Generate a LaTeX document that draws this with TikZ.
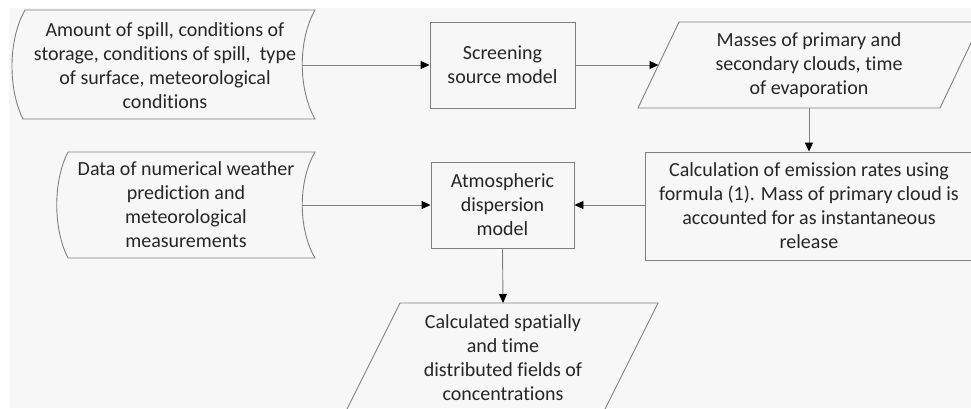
\documentclass[tikz,border=0pt]{standalone}
\usepackage{fontspec}
\setmainfont{Carlito}[Ligatures=NoCommon]
\usetikzlibrary{arrows.meta}
\definecolor{bgc}{HTML}{F7F7F7}
\definecolor{linec}{HTML}{808080}
\definecolor{textc}{HTML}{262626}
\tikzset{
  shapeline/.style={draw=linec, line width=0.9pt},
  txt/.style={font=\fontsize{20}{24}\selectfont, text=textc, align=center, inner sep=0pt},
  procbox/.style={shapeline, rectangle, inner sep=0pt, font=\fontsize{20}{24}\selectfont, text=textc, align=center},
  conn/.style={draw=linec, line width=0.9pt, -{Triangle[length=9pt,width=8pt,color=black]}},
}
\begin{document}
\begin{tikzpicture}[x=1pt,y=-1pt]
\useasboundingbox (0,0) rectangle (971,408);
\clip (0,0) rectangle (971,408);
\fill[white] (0,0) rectangle (971,408);
\fill[bgc] (9,8) rectangle (971,408);

% input 1 (stored data shape)
\draw[shapeline] (25,10) -- (315,10) .. controls (298,40) and (298,89) .. (315,119)
  -- (23,119) .. controls (8,89) and (8,40) .. (25,10) -- cycle;
\node[txt] (in1) at (165,66) {Amount of spill, conditions of\\storage, conditions of spill,\ \ type\\of surface, meteorological\\conditions};
\coordinate (in1out) at (302.25,65);

% screening source model
\node[procbox, minimum width=145pt, minimum height=86pt] (scr) at (502.5,65) {Screening\\source model};

% masses parallelogram
\draw[shapeline] (679,22) -- (981,22) -- (940,108) -- (638,108) -- cycle;
\node[txt] (mass) at (809,65) {Masses of primary and\\secondary clouds, time\\of evaporation};
\coordinate (massin) at (658.5,65);
\coordinate (massout) at (809,108);

% calculation box
\node[procbox, minimum width=328pt, minimum height=108pt] (calc) at (809,206) {Calculation of emission rates using\\formula (1). Mass of primary cloud is\\accounted for as instantaneous\\release};

% atmospheric dispersion model
\node[procbox, minimum width=143pt, minimum height=86pt] (atm) at (502.5,205) {Atmospheric\\dispersion\\model};

% input 2 (stored data shape)
\draw[shapeline] (68,152) -- (315,152) .. controls (298,181) and (298,229) .. (315,258)
  -- (68,258) .. controls (53,229) and (53,181) .. (68,152) -- cycle;
\node[txt] (in2) at (186,205) {Data of numerical weather\\prediction and\\meteorological\\measurements};
\coordinate (in2out) at (302.25,205);

% output parallelogram
\draw[shapeline] (400,303) -- (658,303) -- (603,413) -- (345,413) -- cycle;
\node[txt] (outp) at (503,358) {Calculated spatially\\and time\\distributed fields of\\concentrations};
\coordinate (outin) at (503,303);

% connectors
\draw[conn] (in1out) -- (scr.west);
\draw[conn] (scr.east) -- (massin);
\draw[conn] (massout) -- (calc.north);
\draw[conn] (calc.west |- atm.east) -- (atm.east);
\draw[conn] (in2out) -- (atm.west);
\draw[conn] (atm.south) -- (outin);
\end{tikzpicture}
\end{document}
